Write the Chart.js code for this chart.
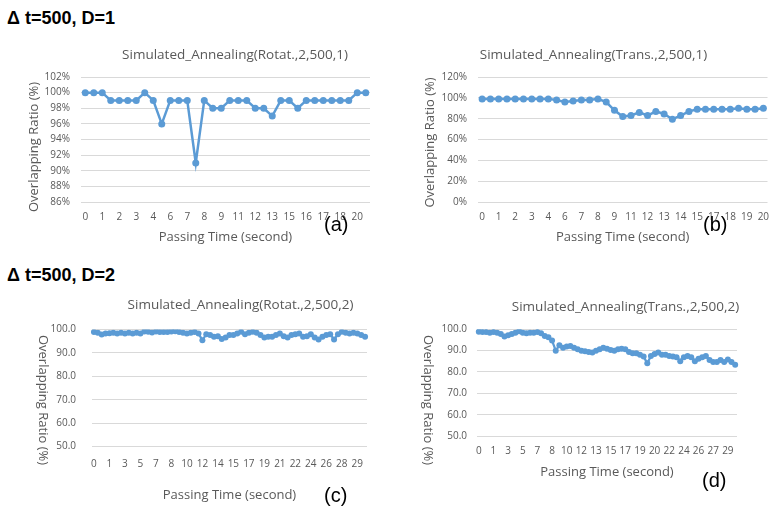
<!DOCTYPE html>
<html>
<head>
<meta charset="utf-8">
<script src="https://cdn.jsdelivr.net/npm/chart.js@4.4.1/dist/chart.umd.min.js"></script>
<style>
  body { margin: 0; background: #fff; }
  #page { position: relative; width: 771px; height: 507px; overflow: hidden; background: #fff; font-family: "Liberation Sans", Arial, sans-serif; }
  canvas { position: absolute; }
  .head { position: absolute; left: 7px; font-weight: bold; font-size: 18px; line-height: 20px; color: #000; }
  .tag { position: absolute; font-size: 20px; line-height: 24px; color: #000; }
</style>
</head>
<body>
<div id="page">
  <div class="head" style="top:8px">Δ t=500, D=1</div>
  <div class="head" style="top:265px">Δ t=500, D=2</div>
  <canvas id="chartA"></canvas>
  <canvas id="chartB"></canvas>
  <canvas id="chartC"></canvas>
  <canvas id="chartD"></canvas>
  <div class="tag" style="left:324px;top:212px">(a)</div>
  <div class="tag" style="left:703px;top:212px">(b)</div>
  <div class="tag" style="left:324px;top:483px">(c)</div>
  <div class="tag" style="left:702px;top:468px">(d)</div>
</div>
<script>
// (a) rotation, D=1 : time labels (every 2nd is shown) and ratio in %
const timesA = ['0','0','1','1','2','2','3','3','4','5','6','6','7','7','8','8','9','10',
  '11','11','12','12','13','14','15','15','16','16','17','17','18','19','20','20'];
const ratioA = [100, 100, 100, 99, 99, 99, 99, 100, 99, 96, 99, 99, 99, 91, 99, 98, 98,
  99, 99, 99, 98, 98, 97, 99, 99, 98, 99, 99, 99, 99, 99, 99, 100, 100];

// (b) translation, D=1
const timesB = ['0','0','1','1','2','2','3','3','4','5','6','6','7','7','8','8','9','10',
  '11','11','12','12','13','13','14','14','15','16','17','17','18','18','19','19','20'];
const ratioB = [99, 99, 99, 99, 99, 99, 99, 99, 99, 98, 96, 97, 98, 98, 99, 96, 88, 82,
  83, 86, 83, 87, 84.5, 79.5, 83, 87, 89, 89, 89, 89, 89, 90, 89, 89, 90];

// (c) rotation, D=2 : every 4th label shown
const timesC = ['0','0','0','1', '1','1','2','2', '3','3','4','4', '5','5','6','6',
  '7','7','7','8', '8','8','9','9', '10','10','11','11', '12','12','13','13',
  '14','14','14','15', '15','16','16','16', '17','17','18','18', '19','19','20','20',
  '21','21','21','22', '22','23','23','23', '24','24','25','25', '26','26','27','27',
  '28','28','28','29', '29','29','30'];
const ratioC = [98.9, 98.6, 97.9, 98.3, 98.4, 98.6, 98.3, 98.6, 98.3, 98.6, 98.3, 98.6,
  98.3, 99.1, 99.0, 98.7, 99.1, 98.9, 98.9, 98.9, 99.1, 99.3, 98.9, 98.6, 98.3, 98.6,
  98.9, 98.3, 95.4, 98.0, 97.6, 96.9, 97.1, 95.9, 96.6, 97.6, 97.6, 98.3, 99.0, 98.0,
  98.6, 99.0, 98.6, 97.6, 96.6, 96.9, 96.9, 97.6, 98.3, 97.1, 96.6, 97.6, 98.0, 98.3,
  96.9, 97.1, 98.0, 96.6, 95.7, 96.9, 97.6, 98.0, 95.7, 98.0, 99.0, 98.6, 98.3, 98.6,
  98.3, 97.6, 96.9];

// (d) translation, D=2
const timesD = ['0','0','0','1', '1','1','2','2', '3','3','4','4', '5','5','6','6',
  '7','7','7','8', '8','9','9','9', '10','10','11','11', '12','12','12','13',
  '13','14','14','14', '15','15','16','16', '17','17','18','18', '19','19','19','20',
  '20','21','21','21', '22','22','23','23', '24','24','25','25', '26','26','26','27',
  '27','28','28','28', '29','29','30'];
const ratioD = [98.9, 98.75, 98.75, 98.4, 98.75, 98.4, 97.8, 96.6, 97.2, 97.8, 98.4, 99.1,
  98.4, 98.1, 98.4, 98.4, 98.75, 98.1, 96.9, 96.3, 94.7, 90.0, 92.5, 91.3, 91.9, 92.2,
  91.3, 90.6, 90.0, 89.7, 89.4, 89.1, 90.0, 90.6, 91.3, 90.9, 90.3, 90.0, 90.6, 90.9,
  90.6, 89.4, 88.75, 88.75, 88.1, 87.2, 84.1, 87.5, 88.4, 89.1, 88.1, 88.1, 87.5, 87.2,
  86.9, 85.0, 86.9, 87.5, 86.9, 85.0, 86.25, 86.9, 87.5, 85.6, 84.7, 84.7, 85.6, 84.7,
  85.9, 84.7, 83.4];

const BLUE = '#5b9bd5';
const GREY = '#595959';
const FONT = '"Open Sans", "Noto Sans", sans-serif';
Chart.defaults.font.family = FONT;

// chart title + y title drawn at page positions (Excel centres them on its own box)
function textPlugin(items, left, top) {
  return {
    id: 'panelText',
    afterDraw(chart) {
      const ctx = chart.ctx;
      items.forEach(t => {
        ctx.save();
        ctx.translate(t.x - left, t.y - top);
        ctx.rotate(t.rot * Math.PI / 180);
        ctx.font = t.size + 'px ' + FONT;
        ctx.fillStyle = GREY;
        ctx.textAlign = 'center';
        ctx.textBaseline = 'middle';
        ctx.fillText(t.text, 0, 0);
        ctx.restore();
      });
    }
  };
}

function makePanel(id, labels, values, p) {
  const cv = document.getElementById(id);
  cv.width = p.w;
  cv.height = p.h;
  cv.style.left = p.left + 'px';
  cv.style.top = p.top + 'px';
  const items = [
    { text: p.title, x: p.titleX, y: p.titleY, rot: 0, size: 13.5 },
    { text: 'Overlapping Ratio (%)', x: p.yTitleX, y: p.yTitleY, rot: p.yRot, size: 13 }
  ];
  new Chart(cv, {
    type: 'line',
    data: {
      labels: labels,
      datasets: [{
        data: values,
        borderColor: BLUE,
        backgroundColor: BLUE,
        borderWidth: p.lineWidth,
        pointRadius: p.dot,
        pointHoverRadius: p.dot,
        pointBorderWidth: 0,
        tension: 0
      }]
    },
    plugins: [textPlugin(items, p.left, p.top)],
    options: {
      responsive: false,
      animation: false,
      layout: { padding: { left: 0, top: p.padTop, right: p.padRight, bottom: 0 } },
      plugins: {
        legend: { display: false },
        tooltip: { enabled: false },
        title: { display: false }
      },
      scales: {
        x: {
          offset: true,
          grid: { display: false },
          border: { display: false },
          ticks: {
            autoSkip: false, maxRotation: 0, minRotation: 0,
            padding: p.xTickPad, color: GREY, font: { size: 10 },
            callback: (v, i) => (i % p.step === 0 ? labels[i] : '')
          },
          title: {
            display: true, text: 'Passing Time (second)', color: GREY,
            font: { size: 13 }, padding: { top: 0, bottom: p.xTitlePad }
          },
          afterFit: s => { s.height = p.xAxisH; }
        },
        y: {
          min: p.yMin, max: p.yMax,
          grid: { color: '#d9d9d9', drawTicks: false },
          border: { display: false },
          ticks: {
            stepSize: p.yStep, padding: p.yTickPad, color: GREY, font: { size: 10 },
            callback: p.fmt
          },
          title: { display: false },
          afterFit: s => { s.width = p.yAxisW; }
        }
      }
    }
  });
}

const pct = v => v + '%';
const oneDec = v => v.toFixed(1);

makePanel('chartA', timesA, ratioA, {
  left: 0, top: 40, w: 390, h: 210,
  title: 'Simulated_Annealing(Rotat.,2,500,1)', titleX: 235, titleY: 55,
  yTitleX: 34, yTitleY: 147, yRot: -90,
  step: 2, lineWidth: 2.5, dot: 3.5,
  yMin: 86, yMax: 102, yStep: 2, fmt: pct,
  padTop: 37, padRight: 20, yAxisW: 81,
  xAxisH: 48, xTickPad: 1, xTitlePad: 5.2, yTickPad: 11
});
makePanel('chartB', timesB, ratioB, {
  left: 390, top: 40, w: 381, h: 210,
  title: 'Simulated_Annealing(Trans.,2,500,1)', titleX: 593.5, titleY: 55,
  yTitleX: 430, yTitleY: 142.5, yRot: -90,
  step: 2, lineWidth: 2.5, dot: 3.5,
  yMin: 0, yMax: 120, yStep: 20, fmt: pct,
  padTop: 37, padRight: 2, yAxisW: 88,
  xAxisH: 48, xTickPad: 1, xTitlePad: 5.2, yTickPad: 11
});
makePanel('chartC', timesC, ratioC, {
  left: 0, top: 290, w: 390, h: 217,
  title: 'Simulated_Annealing(Rotat.,2,500,2)', titleX: 240.5, titleY: 305,
  yTitleX: 43, yTitleY: 400, yRot: 90,
  step: 4, lineWidth: 2.25, dot: 3,
  yMin: 50, yMax: 100, yStep: 10, fmt: oneDec,
  padTop: 39.5, padRight: 23, yAxisW: 92,
  xAxisH: 60.5, xTickPad: 3.5, xTitlePad: 4.2, yTickPad: 16
});
makePanel('chartD', timesD, ratioD, {
  left: 390, top: 290, w: 381, h: 210,
  title: 'Simulated_Annealing(Trans.,2,500,2)', titleX: 625.5, titleY: 307,
  yTitleX: 428, yTitleY: 400, yRot: 90,
  step: 4, lineWidth: 2.25, dot: 3,
  yMin: 50, yMax: 100, yStep: 10, fmt: oneDec,
  padTop: 39.3, padRight: 34, yAxisW: 87,
  xAxisH: 64, xTickPad: 1, xTitlePad: 20.2, yTickPad: 10
});
</script>
</body>
</html>
